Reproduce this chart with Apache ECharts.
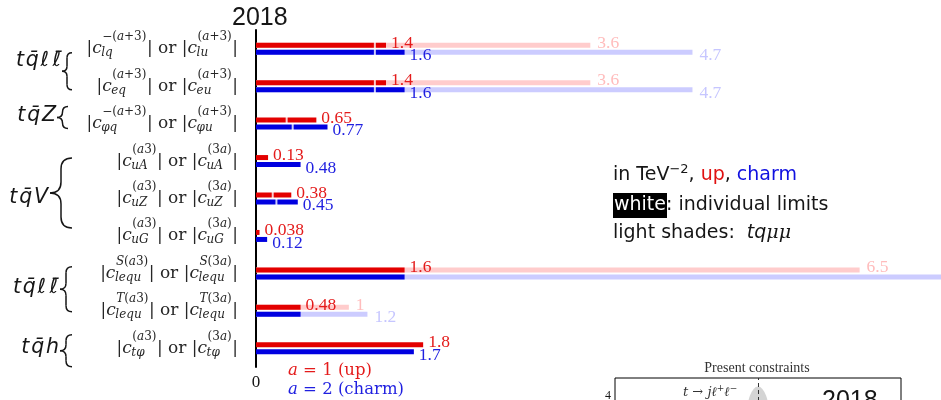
<!DOCTYPE html>
<html><head><meta charset="utf-8">
<script src="https://cdn.jsdelivr.net/npm/echarts@6/dist/echarts.min.js"></script>
<style>html,body{margin:0;padding:0;background:#fff}#c{width:941px;height:400px}</style>
</head><body><div id="c"></div>
<script>
// ---------------- data ----------------
const categories = ['lq|lu', 'eq|eu', 'φq|φu', 'uA', 'uZ', 'uG', 'lequ S', 'lequ T', 'tφ'];
const upValues = [1.4, 1.4, 0.65, 0.13, 0.38, 0.038, 1.6, 0.48, 1.8];
const charmValues = [1.6, 1.6, 0.77, 0.48, 0.45, 0.12, 1.6, 0.48, 1.7];
const upIndividual = [1.28, 1.28, 0.33, null, 0.18, null, null, null, null];
const charmIndividual = [1.28, 1.28, 0.395, null, 0.22, null, null, null, null];
const upTqmumu = [3.6, 3.6, null, null, null, null, 6.5, 1, null];
const charmTqmumu = [4.7, 4.7, null, null, null, null, 8.2, 1.2, null];
const supLeft = ['−(a+3)', '(a+3)', '−(a+3)', '(a3)', '(a3)', '(a3)', 'S(a3)', 'T(a3)', '(a3)'];
const subLeft = ['lq', 'eq', 'φq', 'uA', 'uZ', 'uG', 'lequ', 'lequ', 'tφ'];
const supRight = ['(a+3)', '(a+3)', '(a+3)', '(3a)', '(3a)', '(3a)', 'S(3a)', 'T(3a)', '(3a)'];
const subRight = ['lu', 'eu', 'φu', 'uA', 'uZ', 'uG', 'lequ', 'lequ', 'tφ'];
const groupNames = [['t', 'q\u0304', '\u2113', '\u2113\u0304'], ['t', 'q\u0304', 'Z'], ['t', 'q\u0304', 'V'],
                    ['t', 'q\u0304', '\u2113', '\u2113\u0304'], ['t', 'q\u0304', 'h']];
const groupRows = [[0, 1], [2], [3, 4, 5], [6, 7], [8]];
const xTickLabels = ['0'];
const insetCategories = ['-2', '-1', '0', '1', '2'];
const insetYTickLabels = ['4'];
const insetRegion = [['0', 3.5]];

// ---------------- styles ----------------
const RED = '#e30000', BLUE = '#0000e0', LRED = '#ffcccc', LBLUE = '#ccccff';
const RED_T = '#e41b1b', BLUE_T = '#1f1fe0', LRED_T = '#ffbcbc', LBLUE_T = '#c6c6ff';
const SERIF = 'Liberation Serif', MATH = 'DejaVu Serif', SANS = 'DejaVu Sans', SANS2 = 'Liberation Sans';
const INK = '#161616', INK2 = '#262626';
const X_MAX = 9.53;

const chart = echarts.init(document.getElementById('c'), null, {renderer: 'canvas'});

function valueLabel(color, dy, dist, hide) {
  return {
    show: true, position: 'right', distance: dist, offset: [0, dy], color: color,
    fontFamily: SERIF, fontSize: 17.5,
    formatter: p => (hide && hide(p.dataIndex)) ? '' : String(p.value)
  };
}
const pairs = (arr) => arr.map((v, i) => v == null ? null : [v, i]).filter(Boolean);

const option = {
  animation: false,
  grid: [
    {left: 256, top: 30, width: 885, height: 337, outerBoundsMode: 'none', containLabel: false},
    {left: 615, top: 378, width: 286, height: 198, show: true, borderColor: '#000', borderWidth: 1,
      outerBoundsMode: 'none', containLabel: false}
  ],
  xAxis: [
    {gridIndex: 0, type: 'value', min: 0, max: X_MAX,
      axisLine: {show: false}, axisTick: {show: false}, splitLine: {show: false},
      axisLabel: {formatter: v => v === 0 ? xTickLabels[0] : '', fontFamily: SERIF, fontSize: 17, color: INK, margin: 7}},
    {gridIndex: 1, type: 'category', data: insetCategories, position: 'top', boundaryGap: true,
      axisLine: {lineStyle: {color: '#000'}},
      axisTick: {inside: true, alignWithLabel: true, length: 5, lineStyle: {color: '#000'}},
      axisLabel: {show: false}, splitLine: {show: false}}
  ],
  yAxis: [
    {gridIndex: 0, type: 'category', inverse: true, data: categories,
      axisLine: {lineStyle: {color: '#000', width: 2}}, axisTick: {show: false}, axisLabel: {show: false}},
    {gridIndex: 0, type: 'category', inverse: true, data: categories, show: false},
    {gridIndex: 1, type: 'value', min: 0, max: 4.4, interval: 1, position: 'left',
      axisLine: {show: false}, splitLine: {show: false},
      axisTick: {inside: true, length: 5, lineStyle: {color: '#000'}},
      axisLabel: {formatter: v => v === 4 ? insetYTickLabels[0] : '', fontFamily: SERIF, fontSize: 12, color: INK, margin: 4}},
    {gridIndex: 1, type: 'value', min: 0, max: 4.4, interval: 1, position: 'right',
      axisLine: {show: false}, splitLine: {show: false},
      axisTick: {inside: true, length: 5, lineStyle: {color: '#000'}}, axisLabel: {show: false}}
  ],
  series: [
    {name: 'up tqμμ', type: 'bar', xAxisIndex: 0, yAxisIndex: 1, data: upTqmumu, barWidth: 5, barGap: '40%',
      itemStyle: {color: LRED}, label: valueLabel(LRED_T, -2, 7), z: 1, silent: true},
    {name: 'charm tqμμ', type: 'bar', xAxisIndex: 0, yAxisIndex: 1, data: charmTqmumu, barWidth: 5, barGap: '40%',
      itemStyle: {color: LBLUE}, label: valueLabel(LBLUE_T, 3.5, 7), z: 1, silent: true},
    {name: 'up', type: 'bar', xAxisIndex: 0, yAxisIndex: 0, data: upValues, barWidth: 5, barGap: '40%',
      itemStyle: {color: RED}, label: valueLabel(RED_T, -2, 5), z: 2, silent: true},
    {name: 'charm', type: 'bar', xAxisIndex: 0, yAxisIndex: 0, data: charmValues, barWidth: 5, barGap: '40%',
      itemStyle: {color: BLUE}, label: valueLabel(BLUE_T, 3.5, 5, i => charmValues[i] === upValues[i]), z: 2, silent: true},
    {name: 'up individual', type: 'scatter', xAxisIndex: 0, yAxisIndex: 0, data: pairs(upIndividual),
      symbol: 'rect', symbolSize: [2, 7], symbolOffset: [0, -3.5], itemStyle: {color: '#fff'}, z: 5, silent: true},
    {name: 'charm individual', type: 'scatter', xAxisIndex: 0, yAxisIndex: 0, data: pairs(charmIndividual),
      symbol: 'rect', symbolSize: [2, 7], symbolOffset: [0, 3.5], itemStyle: {color: '#fff'}, z: 5, silent: true},
    {name: 'inset region', type: 'scatter', xAxisIndex: 1, yAxisIndex: 2, data: insetRegion,
      symbol: 'circle', symbolSize: [23, 64], itemStyle: {color: '#c9c9c9'}, z: 1, silent: true, clip: true,
      markLine: {silent: true, symbol: 'none', label: {show: false}, lineStyle: {color: '#333', type: [4, 3], width: 1},
        data: [{xAxis: '0'}]}}
  ]
};
chart.setOption(option);

// ---------------- text decorations (math labels) ----------------
const cv = document.createElement('canvas').getContext('2d');
function fontCss(fs, fam, it) { return (it ? 'italic ' : '') + fs + 'px "' + fam + '"'; }
function tw(t, fs, fam, it) { cv.font = fontCss(fs, fam, it); return cv.measureText(t).width; }
const els = [];
function addText(t, x, base, fs, fam, it, color, extra) {
  const k = (fam === SERIF) ? 0.3375 : 0.346;
  els.push({type: 'text', x: x, y: base - k * fs, silent: true, z: 100,
    style: Object.assign({text: t, fontSize: fs, fontFamily: fam, fontStyle: it ? 'italic' : 'normal',
      fill: color || INK, align: 'left', verticalAlign: 'middle'}, extra || {})});
}
function mathRuns(str) {
  const out = []; let cur = null;
  for (const ch of str) {
    const it = /[A-Za-zφμ]/.test(ch);
    if (cur && cur.it === it) cur.t += ch; else { cur = {t: ch, it: it}; out.push(cur); }
  }
  return out;
}
function mathWidth(str, fs) { return mathRuns(str).reduce((s, r) => s + tw(r.t, fs, MATH, r.it), 0); }
function drawMath(str, x, base, fs, color) {
  for (const r of mathRuns(str)) { addText(r.t, x, base, fs, MATH, r.it, color); x += tw(r.t, fs, MATH, r.it); }
}
function drawRuns(runs, x, base, defs) {
  for (const r0 of runs) {
    const r = Object.assign({}, defs, r0);
    addText(r.t, x, base + (r.dy || 0), r.fs, r.fam, r.it, r.c, r.extra);
    x += tw(r.t, r.fs, r.fam, r.it) + (r.pad || 0);
  }
  return x;
}
function brace(xL, xR, yT, yB) {
  const xm = (xL + xR) / 2, ym = (yT + yB) / 2, r = Math.min((xR - xL) / 2, (yB - yT) / 4);
  const st = {stroke: INK, lineWidth: 1.5, fill: null};
  const segs = [
    {type: 'bezierCurve', shape: {x1: xR, y1: yT, cpx1: xm, cpy1: yT, x2: xm, y2: yT + r}},
    {type: 'line', shape: {x1: xm, y1: yT + r, x2: xm, y2: ym - r}},
    {type: 'bezierCurve', shape: {x1: xm, y1: ym - r, cpx1: xm, cpy1: ym, x2: xL, y2: ym}},
    {type: 'bezierCurve', shape: {x1: xL, y1: ym, cpx1: xm, cpy1: ym, x2: xm, y2: ym + r}},
    {type: 'line', shape: {x1: xm, y1: ym + r, x2: xm, y2: yB - r}},
    {type: 'bezierCurve', shape: {x1: xm, y1: yB - r, cpx1: xm, cpy1: yB, x2: xR, y2: yB}}
  ];
  segs.forEach(s => { s.style = st; s.silent = true; s.z = 100; els.push(s); });
}

const cy = i => chart.convertToPixel({yAxisIndex: 0}, i);
const LBL = {fs: 17, sfs: 12, right: 238, baseDy: 6, supDy: -7.5, subDy: 8.5};

for (let i = 0; i < categories.length; i++) {
  const c = cy(i);
  const pieces = [{t: '|'}, {t: 'c', it: true}, {sup: supLeft[i], sub: subLeft[i]}, {t: '| or |'},
                  {t: 'c', it: true}, {sup: supRight[i], sub: subRight[i]}, {t: '|'}];
  const W = pieces.map(p => p.sup !== undefined
    ? Math.max(mathWidth(p.sup, LBL.sfs), mathWidth(p.sub, LBL.sfs)) + 1
    : tw(p.t, LBL.fs, MATH, p.it));
  let x = LBL.right - W.reduce((a, b) => a + b, 0);
  pieces.forEach((p, j) => {
    if (p.sup !== undefined) {
      drawMath(p.sup, x + 0.5, c + LBL.supDy, LBL.sfs, INK2);
      drawMath(p.sub, x - 0.5, c + LBL.subDy, LBL.sfs, INK2);
    } else {
      addText(p.t, x, c + LBL.baseDy, LBL.fs, MATH, p.it, INK2);
    }
    x += W[j];
  });
}

// group labels with braces
const groupLayout = [
  {textRight: 61, baseDy: 0, xL: 62, xR: 72, t: 4, b: 3.6},
  {textRight: 56, baseDy: -1, xL: 57, xR: 68, t: -17, b: 5},
  {textRight: 48, baseDy: 6, xL: 50, xR: 72, t: -3, b: -8},
  {textRight: 58, baseDy: 3, xL: 60, xR: 72, t: -6.6, b: 1},
  {textRight: 59, baseDy: 6.5, xL: 60, xR: 72, t: -13.5, b: 18.5}
];
const GFS = 20.5;
groupNames.forEach((g, k) => {
  const rows = groupRows[k], L = groupLayout[k];
  const first = cy(rows[0]), last = cy(rows[rows.length - 1]);
  const mid = (first + last) / 2;
  const runs = g.map((ch, j) => {
    const ell = ch[0] === '\u2113';
    return {t: ch, pad: j === g.length - 1 ? 0 : (ell ? 3.5 : 1.8)};
  });
  const total = runs.reduce((s, r) => s + tw(r.t, GFS, SANS, true) + r.pad, 0);
  drawRuns(runs, L.textRight - total, mid + L.baseDy, {fs: GFS, fam: SANS, it: true, c: INK});
  brace(L.xL, L.xR, first + L.t, last + L.b);
});

// title "2018"
addText('2018', 232, 27, 25, SANS2, false, INK);

// explanation text block
const TXT = {fs: 19, fam: SANS, c: INK};
drawRuns([{t: 'in TeV'}, {t: '−2', fs: 13, dy: -8}, {t: ', '}, {t: 'up', c: '#e01010'}, {t: ', '}, {t: 'charm', c: '#1010e0'}], 613, 182, TXT);
drawRuns([{t: 'white', c: '#fff', extra: {backgroundColor: '#000', padding: [3, 1, 3, 1]}, pad: 1},
          {t: ': individual limits'}], 613, 212, TXT);
drawRuns([{t: 'light shades:  '}, {t: 'tq', it: true}, {t: 'μμ', fam: MATH, it: true}], 613, 240, TXT);

// legend under the bars
const LEG = {fs: 16.5, fam: MATH};
drawRuns([{t: 'a', it: true}, {t: ' = 1 (up)'}], 288, 376, Object.assign({c: RED_T}, LEG));
drawRuns([{t: 'a', it: true}, {t: ' = 2 (charm)'}], 288, 395, Object.assign({c: BLUE_T}, LEG));

// inset decorations
const pcW = tw('Present constraints', 14, SERIF, false);
addText('Present constraints', 757 - pcW / 2, 373, 14, SERIF, false, '#333');
drawRuns([{t: 't', it: true}, {t: ' → '}, {t: 'j', it: true}, {t: 'ℓ', it: true}, {t: '+', fs: 9, dy: -5},
          {t: 'ℓ', it: true}, {t: '−', fs: 9, dy: -5}], 683, 397, {fs: 13, fam: MATH, c: '#333'});
addText('2018', 822, 410, 25, SANS2, false, INK);

chart.setOption({graphic: {elements: els}});
</script>
</body></html>
